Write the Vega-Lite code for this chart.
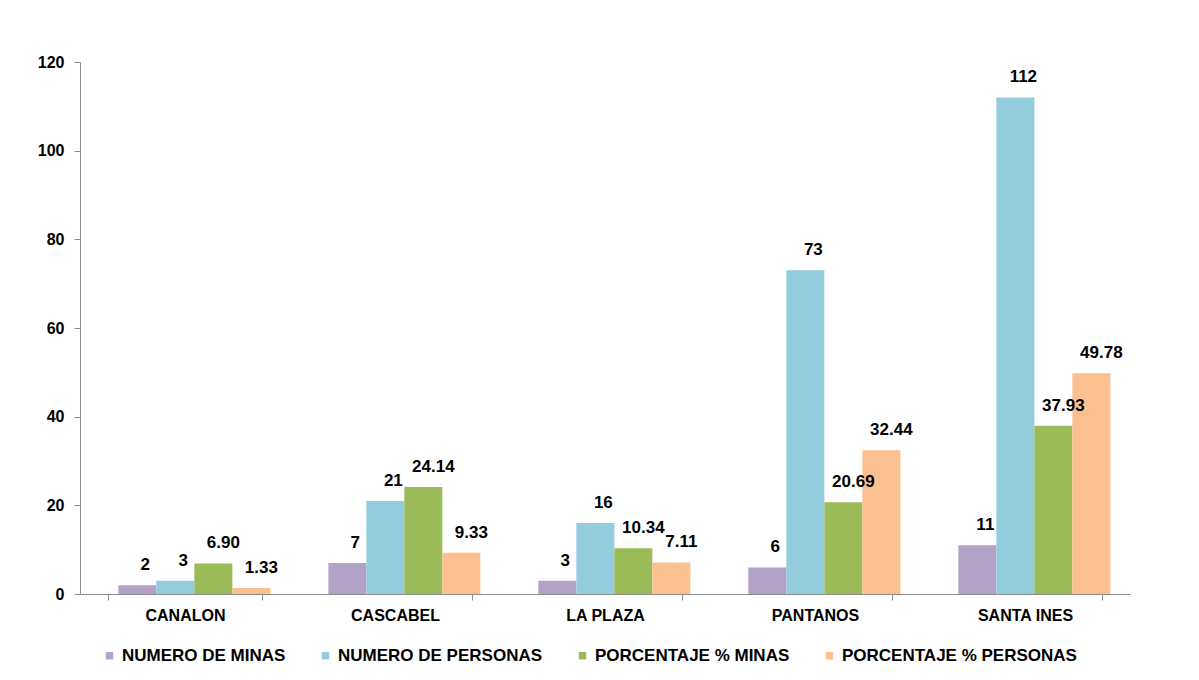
{
  "$schema": "https://vega.github.io/schema/vega-lite/v6.json",
  "autosize": {"type": "none"},
  "width": 1050,
  "height": 532,
  "padding": {"left": 80, "top": 62, "right": 69, "bottom": 86},
  "background": "white",
  "config": {
    "font": "Liberation Sans",
    "view": {"stroke": null},
    "axis": {"grid": false, "domainColor": "#8c8c8c", "tickColor": "#8c8c8c", "labelFont": "Liberation Sans", "labelFontWeight": "bold", "labelColor": "black", "labelFontSize": 16}
  },
  "data": {
    "values": [
      {"zona": "CANALON", "serie": "NUMERO DE MINAS", "valor": 2},
      {"zona": "CANALON", "serie": "NUMERO DE PERSONAS", "valor": 3},
      {"zona": "CANALON", "serie": "PORCENTAJE % MINAS", "valor": 6.90},
      {"zona": "CANALON", "serie": "PORCENTAJE % PERSONAS", "valor": 1.33},
      {"zona": "CASCABEL", "serie": "NUMERO DE MINAS", "valor": 7},
      {"zona": "CASCABEL", "serie": "NUMERO DE PERSONAS", "valor": 21},
      {"zona": "CASCABEL", "serie": "PORCENTAJE % MINAS", "valor": 24.14},
      {"zona": "CASCABEL", "serie": "PORCENTAJE % PERSONAS", "valor": 9.33},
      {"zona": "LA PLAZA", "serie": "NUMERO DE MINAS", "valor": 3},
      {"zona": "LA PLAZA", "serie": "NUMERO DE PERSONAS", "valor": 16},
      {"zona": "LA PLAZA", "serie": "PORCENTAJE % MINAS", "valor": 10.34},
      {"zona": "LA PLAZA", "serie": "PORCENTAJE % PERSONAS", "valor": 7.11},
      {"zona": "PANTANOS", "serie": "NUMERO DE MINAS", "valor": 6},
      {"zona": "PANTANOS", "serie": "NUMERO DE PERSONAS", "valor": 73},
      {"zona": "PANTANOS", "serie": "PORCENTAJE % MINAS", "valor": 20.69},
      {"zona": "PANTANOS", "serie": "PORCENTAJE % PERSONAS", "valor": 32.44},
      {"zona": "SANTA INES", "serie": "NUMERO DE MINAS", "valor": 11},
      {"zona": "SANTA INES", "serie": "NUMERO DE PERSONAS", "valor": 112},
      {"zona": "SANTA INES", "serie": "PORCENTAJE % MINAS", "valor": 37.93},
      {"zona": "SANTA INES", "serie": "PORCENTAJE % PERSONAS", "valor": 49.78}
    ]
  },
  "encoding": {
    "x": {
      "field": "zona", "type": "nominal", "title": null,
      "scale": {"paddingInner": 0.27, "paddingOuter": 0.135},
      "axis": {"labelAngle": 0, "tickBand": "extent", "tickSize": 6, "labelPadding": 7}
    },
    "xOffset": {
      "field": "serie", "type": "nominal",
      "scale": {"domain": ["NUMERO DE MINAS", "NUMERO DE PERSONAS", "PORCENTAJE % MINAS", "PORCENTAJE % PERSONAS"], "range": [10, 162], "paddingInner": 0, "paddingOuter": 0}
    },
    "y": {
      "field": "valor", "type": "quantitative", "title": null,
      "scale": {"domain": [0, 120]},
      "axis": {"values": [0, 20, 40, 60, 80, 100, 120], "tickSize": 6, "labelPadding": 10}
    }
  },
  "layer": [
    {
      "mark": {"type": "bar"},
      "encoding": {
        "color": {
          "field": "serie", "type": "nominal",
          "scale": {"domain": ["NUMERO DE MINAS", "NUMERO DE PERSONAS", "PORCENTAJE % MINAS", "PORCENTAJE % PERSONAS"], "range": ["#B3A2C7", "#93CDDD", "#9BBB59", "#FAC090"]},
          "legend": {
            "title": null, "orient": "none", "direction": "horizontal",
            "legendX": 21, "legendY": 585,
            "symbolType": "square", "symbolSize": 55, "symbolStrokeWidth": 0,
            "labelFontSize": 17, "labelFontWeight": "bold", "labelColor": "black", "labelFont": "Liberation Sans",
            "labelOffset": 4, "columnPadding": 31, "labelLimit": 400
          }
        }
      }
    },
    {
      "transform": [{"filter": "indexof(datum.serie, 'NUMERO') === 0"}],
      "mark": {"type": "text", "baseline": "bottom", "dy": -11, "dx": 8, "fontSize": 17, "fontWeight": "bold", "font": "Liberation Sans", "color": "black"},
      "encoding": {"text": {"field": "valor", "type": "quantitative", "format": "d"}}
    },
    {
      "transform": [{"filter": "indexof(datum.serie, 'PORCENTAJE') === 0"}],
      "mark": {"type": "text", "baseline": "bottom", "dy": -11, "dx": 10, "fontSize": 17, "fontWeight": "bold", "font": "Liberation Sans", "color": "black"},
      "encoding": {"text": {"field": "valor", "type": "quantitative", "format": ".2f"}}
    }
  ]
}
